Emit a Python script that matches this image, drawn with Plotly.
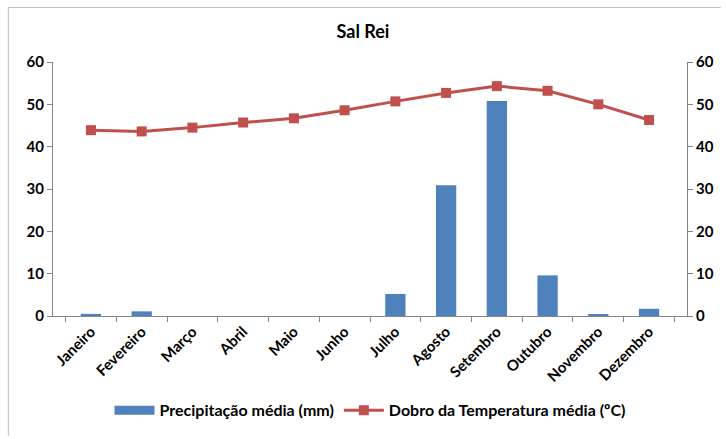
import plotly.graph_objects as go

# Monthly climate data for Sal Rei
meses = ["Janeiro", "Fevereiro", "Março", "Abril", "Maio", "Junho",
         "Julho", "Agosto", "Setembro", "Outubro", "Novembro", "Dezembro"]
precipitacao = [0.5, 1.1, 0.0, 0.0, 0.0, 0.0, 5.2, 30.9, 50.8, 9.6, 0.3, 1.7]
dobro_temperatura = [43.9, 43.6, 44.5, 45.7, 46.7, 48.6, 50.7, 52.7, 54.3, 53.2, 50.0, 46.3]

FONT = "Lato"
AXIS_GRAY = "#868686"
BLUE = "#4F81BD"
RED = "#C0504D"

fig = go.Figure()

fig.add_trace(go.Bar(
    x=meses, y=precipitacao,
    name="Precipitação média (mm)",
    marker=dict(color=BLUE, line=dict(width=0)),
    showlegend=False,
    yaxis="y",
))

# Legend key for the bars, drawn as a wide flat swatch
fig.add_trace(go.Scatter(
    x=[None], y=[None],
    name="Precipitação média (mm)",
    mode="lines",
    line=dict(color=BLUE, width=9),
    hoverinfo="skip",
))

fig.add_trace(go.Scatter(
    x=meses, y=dobro_temperatura,
    name="Dobro da Temperatura média (ºC)",
    mode="lines+markers",
    line=dict(color=RED, width=3),
    marker=dict(symbol="square", size=10, color=RED),
    yaxis="y2",
))

axis_common = dict(
    range=[0, 60], dtick=10, showgrid=False, zeroline=False,
    showline=True, linecolor=AXIS_GRAY, linewidth=1,
    ticks="outside", ticklen=5, tickcolor=AXIS_GRAY,
    tickfont=dict(family=FONT, size=15, color="#000000", weight="bold"),
)

fig.update_layout(
    width=726, height=439,
    margin=dict(l=53, r=34, t=62, b=121),
    paper_bgcolor="white", plot_bgcolor="white",
    title=dict(text="<b>Sal Rei</b>", x=0.5, xanchor="center",
               y=1 - 32 / 439, yanchor="middle",
               font=dict(family=FONT, size=18, color="#000000")),
    bargap=0.6,
    showlegend=True,
    legend=dict(orientation="h", x=0.5, xanchor="center",
                y=-0.371, yanchor="middle",
                font=dict(family=FONT, size=16, color="#000000", weight="bold"),
                itemwidth=40, tracegroupgap=0),
    xaxis=dict(
        showgrid=False, showline=True, linecolor=AXIS_GRAY, linewidth=1,
        ticks="outside", ticklen=5, tickcolor=AXIS_GRAY, tickson="boundaries",
        tickangle=-45,
        tickfont=dict(family=FONT, size=15, color="#000000", weight="bold"),
    ),
    yaxis=dict(side="left", **axis_common),
    yaxis2=dict(side="right", overlaying="y", **axis_common),
    shapes=[
        dict(type="line", xref="paper", yref="paper",
             x0=-45 / 639, x1=-45 / 639, y0=311 / 256, y1=-121 / 256,
             line=dict(color="#BFBFBF", width=1)),
        dict(type="line", xref="paper", yref="paper",
             x0=-45 / 639, x1=673 / 639, y0=311 / 256, y1=311 / 256,
             line=dict(color="#BFBFBF", width=1)),
    ],
)

fig.write_html("out.html")
